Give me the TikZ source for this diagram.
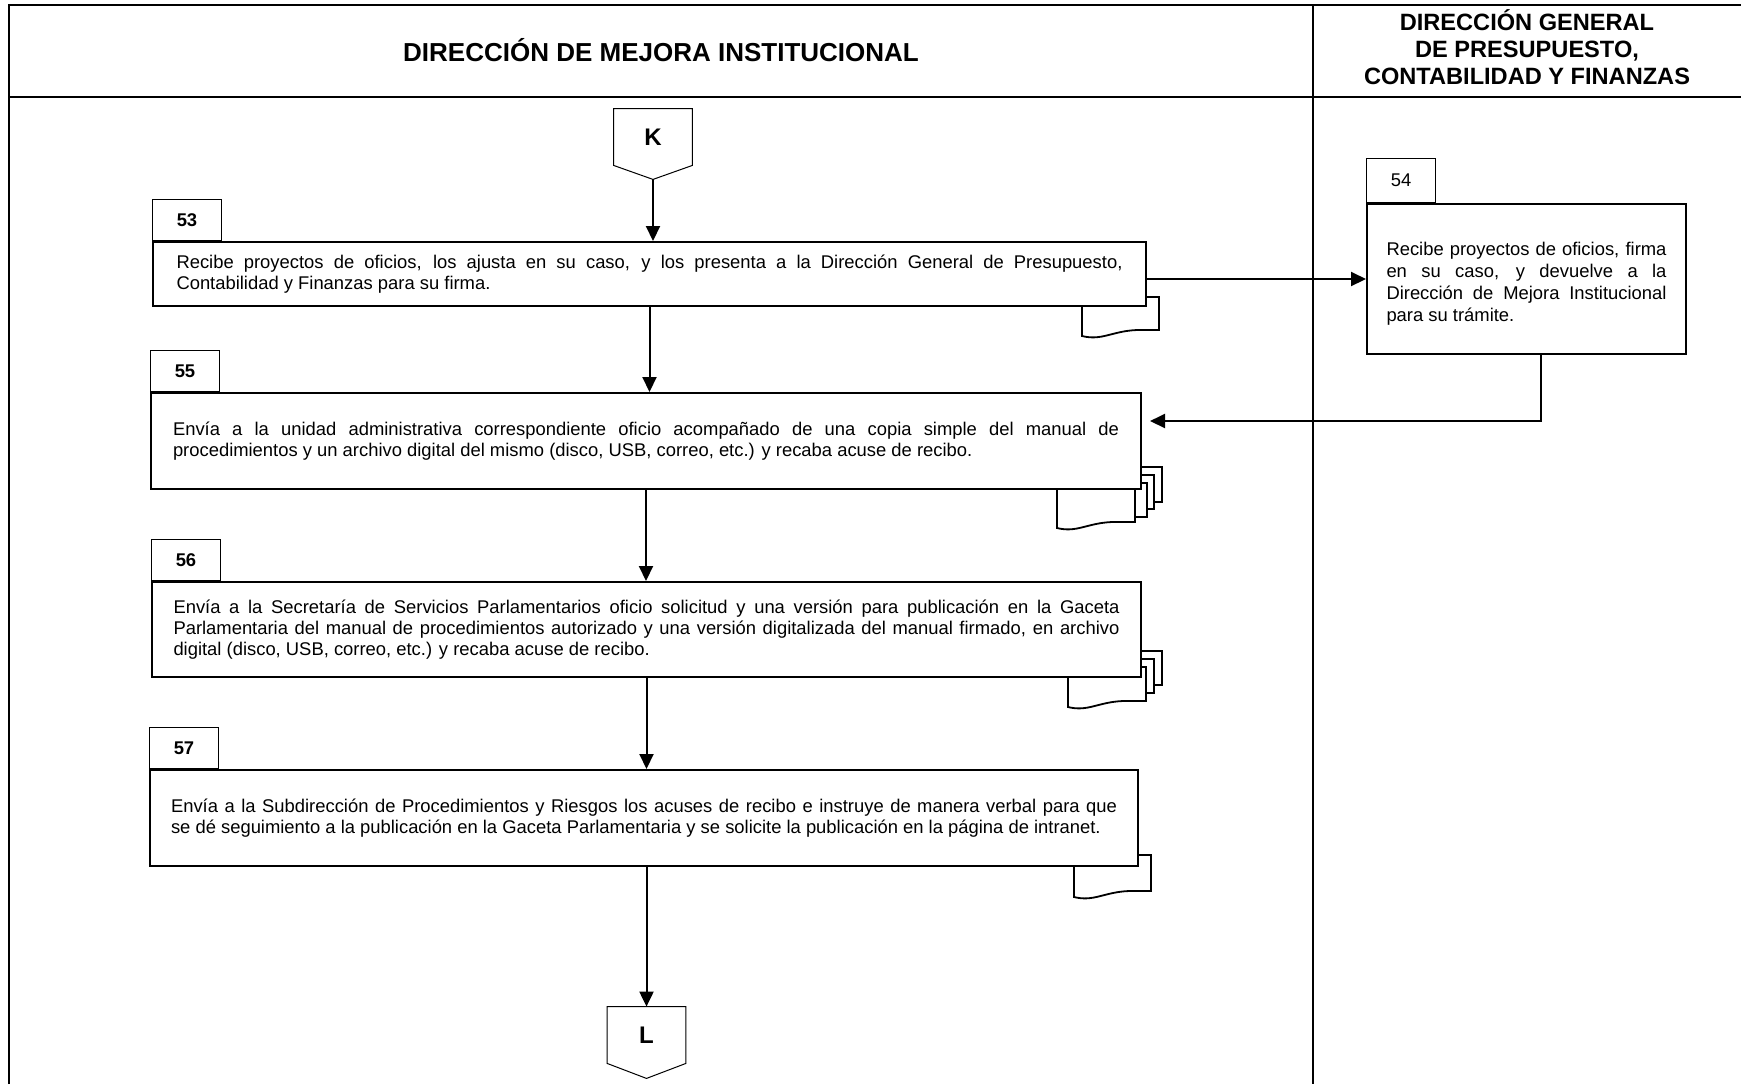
\documentclass[tikz,border=0pt]{standalone}
\usepackage{fontspec}
\setmainfont{Liberation Sans}
\usetikzlibrary{arrows.meta, positioning, calc}
\tolerance=10000
\hbadness=10000
\tikzset{
  paso/.style={rectangle, draw=black, fill=white, line width=1pt,
    anchor=north west, text width=473pt, align=justify, inner xsep=0pt,
    font=\fontsize{9.2}{10.5}\selectfont},
  numtab/.style={rectangle, draw=black, line width=0.5pt, anchor=south west,
    minimum width=34.5pt, minimum height=20.5pt, inner sep=0pt,
    font=\fontsize{9.2}{11}\selectfont\bfseries},
  titulo/.style={font=\fontsize{13}{15}\selectfont\bfseries, align=center},
  conector/.style={minimum width=39pt, minimum height=28pt, inner sep=0pt,
    font=\fontsize{12}{14}\selectfont\bfseries},
  flecha/.style={-{Triangle[length=7.5pt, width=7pt]}, line width=1pt},
  hoja/.style={draw=black, fill=white, line width=0.9pt},
  marco/.style={line width=1.1pt}
}

\begin{document}
\begin{tikzpicture}[x=0.5pt, y=-0.5pt]
  \useasboundingbox (0,0) rectangle (1741,1084);

  % Frame and lanes
  \draw[marco] (9,1084) -- (9,5) -- (1741,5);
  \draw[marco] (9,97) -- (1741,97);
  \draw[marco] (1313,5) -- (1313,1084);
  \node[titulo, anchor=base] (hdrdmi) at (661,61) {DIRECCIÓN DE MEJORA INSTITUCIONAL};
  \node[titulo, font=\fontsize{11.8}{13.6}\selectfont\bfseries] (hdrdgp) at (1527,47)
    {DIRECCIÓN GENERAL\\DE PRESUPUESTO,\\CONTABILIDAD Y FINANZAS};

  % Documents behind the boxes
  \draw[hoja] (1082,297) -- (1159,297) -- (1159,330) -- (1137,330)
    .. controls (1112,331) and (1102,341) .. (1082,336) -- cycle;
  \foreach \r/\t/\b in {1162/467/502, 1154/475/509, 1147/483/517} {
    \draw[hoja] (\r-77,\t) rectangle (\r,\b);
  }
  \draw[hoja] (1057,478) -- (1135,478) -- (1135,522) -- (1112,522)
    .. controls (1087,523) and (1077,533) .. (1057,528) -- cycle;
  \foreach \r/\t/\b in {1162/651/685, 1154/659/693} {
    \draw[hoja] (\r-77,\t) rectangle (\r,\b);
  }
  \draw[hoja] (1068,667) -- (1146,667) -- (1146,701) -- (1123,701)
    .. controls (1098,702) and (1088,712) .. (1068,707) -- cycle;
  \draw[hoja] (1074,855) -- (1151,855) -- (1151,891) -- (1129,891)
    .. controls (1104,892) and (1094,902) .. (1074,897) -- cycle;

  % Connector K
  \node[conector] (K) at (653,137) {K};
  \coordinate (Kp) at ($(K.south)+(0,-7pt)$);
  \draw[line width=0.5pt] (K.north west) -- (K.north east) -- (K.south east) -- (Kp) -- (K.south west) -- cycle;

  % Steps
  \node[paso, minimum width=496.5pt, minimum height=32pt] (p53) at (152,241)
    {Recibe proyectos de oficios, los ajusta en su caso, y los presenta a la Dirección General de Presupuesto,\linebreak
     Contabilidad y Finanzas para su firma.};
  \node[numtab] (n53) at (p53.north west) {53};

  \node[paso, text width=140pt, minimum width=159.5pt, minimum height=75pt,
    inner ysep=0pt, font=\fontsize{9.2}{11}\selectfont] (p54) at (1366,203)
    {\rule{0pt}{11.8pt}Recibe proyectos de oficios, firma\linebreak
     en su caso, y devuelve a la\linebreak
     Dirección de Mejora Institucional\linebreak
     para su trámite.};
  \node[numtab, minimum height=22pt, font=\fontsize{9.2}{11}\selectfont] (n54) at (p54.north west) {54};

  \node[paso, minimum width=495pt, minimum height=48pt] (p55) at (150,392)
    {Envía a la unidad administrativa correspondiente oficio acompañado de una copia simple del manual de\linebreak
     procedimientos y un archivo digital del mismo (disco, USB, correo, etc.) y recaba acuse de recibo.};
  \node[numtab] (n55) at (p55.north west) {55};

  \node[paso, minimum width=494.5pt, minimum height=47.5pt] (p56) at (151,581)
    {Envía a la Secretaría de Servicios Parlamentarios oficio solicitud y una versión para publicación en la Gaceta\linebreak
     Parlamentaria del manual de procedimientos autorizado y una versión digitalizada del manual firmado, en archivo\linebreak
     digital (disco, USB, correo, etc.) y recaba acuse de recibo.};
  \node[numtab] (n56) at (p56.north west) {56};

  \node[paso, minimum width=494pt, minimum height=48pt] (p57) at (149,769)
    {Envía a la Subdirección de Procedimientos y Riesgos los acuses de recibo e instruye de manera verbal para que\linebreak
     se dé seguimiento a la publicación en la Gaceta Parlamentaria y se solicite la publicación en la página de intranet.};
  \node[numtab] (n57) at (p57.north west) {57};

  % Connector L
  \node[conector] (L) at (646.5,1035) {L};
  \coordinate (Lp) at ($(L.south)+(0,-7.5pt)$);
  \draw[line width=0.5pt] (L.north west) -- (L.north east) -- (L.south east) -- (Lp) -- (L.south west) -- cycle;

  % Arrows
  \draw[flecha] (Kp) -- (Kp |- p53.north);
  \draw[flecha] (p53.east |- p54.west) -- (p54.west);
  \coordinate (vuelta) at (1541,421);
  \draw[flecha] (p54.south -| vuelta) |- ([xshift=4pt]p55.east |- vuelta);
  \draw[flecha] (p53.south) -- (p53.south |- p55.north);
  \draw[flecha] (p55.south) -- (p55.south |- p56.north);
  \draw[flecha] (p56.south) -- (p56.south |- p57.north);
  \draw[flecha] (p57.south -| L) -- (L.north);
\end{tikzpicture}
\end{document}
